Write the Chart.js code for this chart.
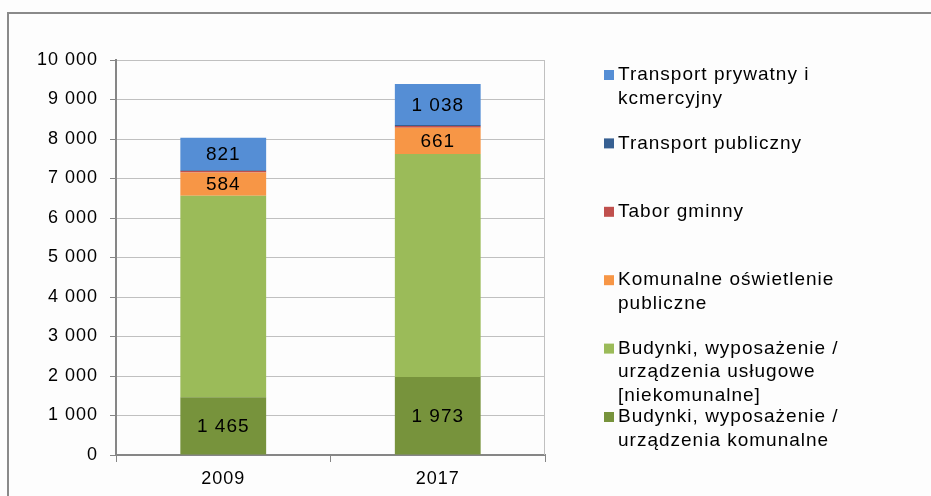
<!DOCTYPE html>
<html>
<head>
<meta charset="utf-8">
<script src="https://cdn.jsdelivr.net/npm/chart.js@4.4.1/dist/chart.umd.min.js"></script>
<style>
  html, body { margin: 0; padding: 0; background: #ffffff; }
  #wrap { width: 931px; height: 496px; position: relative; }
</style>
</head>
<body>
<div id="wrap"><canvas id="chart" width="931" height="496"></canvas></div>
<script>
// categories
const years = ['2009', '2017'];

// series (bottom to top of the stack)
const budynkiKomunalne = [1465, 1973];
const budynkiUslugowe = [5100, 5650];
const oswietlenie = [584, 661];
const taborGminny = [40, 45];
const transportPubliczny = [20, 25];
const transportPrywatny = [821, 1038];

// y ticks
const yMin = 0;
const yMax = 10000;
const yStep = 1000;

// legend, top to bottom
const legendLabels = [
    ['Transport prywatny i', 'kcmercyjny'],
    ['Transport publiczny'],
    ['Tabor gminny'],
    ['Komunalne oświetlenie', 'publiczne'],
    ['Budynki, wyposażenie /', 'urządzenia usługowe', '[niekomunalne]'],
    ['Budynki, wyposażenie /', 'urządzenia komunalne']
];
const legendColors = ['#558ed5', '#376092', '#c0504d', '#f79646', '#9bbb59', '#77933c'];

function spaced(v) {
    return String(v).replace(/\B(?=(\d{3})+(?!\d))/g, ' ');
}

Chart.defaults.font.family = "'Liberation Sans', Arial, sans-serif";
Chart.defaults.color = '#000000';

// frame around the chart + right border of the plot area
const framePlugin = {
    id: 'frame',
    beforeDraw(chart) {
        const ctx = chart.ctx;
        ctx.save();
        ctx.fillStyle = '#fdfdfd';
        ctx.fillRect(0, 0, chart.width, chart.height);
        ctx.strokeStyle = '#8a8a8a';
        ctx.lineWidth = 2;
        ctx.beginPath();
        ctx.moveTo(8, chart.height);
        ctx.lineTo(8, 13);
        ctx.lineTo(chart.width, 13);
        ctx.stroke();
        ctx.restore();
        ctx.letterSpacing = '1px';
    },
    beforeDatasetsDraw(chart) {
        const ctx = chart.ctx;
        const a = chart.chartArea;
        ctx.save();
        ctx.strokeStyle = '#c0c0c0';
        ctx.lineWidth = 1;
        ctx.beginPath();
        ctx.moveTo(a.right - 0.5, a.top);
        ctx.lineTo(a.right - 0.5, a.bottom);
        ctx.stroke();
        ctx.restore();
    },
    afterDraw(chart) {
        chart.ctx.letterSpacing = '0px';
    }
};

// value labels inside the bigger segments
const valueLabels = {
    id: 'valueLabels',
    afterDatasetsDraw(chart) {
        const ctx = chart.ctx;
        ctx.save();
        ctx.font = "19px 'Liberation Sans', Arial, sans-serif";
        ctx.fillStyle = '#000000';
        ctx.textAlign = 'center';
        ctx.textBaseline = 'middle';
        chart.data.datasets.forEach((ds, i) => {
            if (!ds.showValue) return;
            chart.getDatasetMeta(i).data.forEach((bar, j) => {
                ctx.fillText(spaced(ds.data[j]), bar.x, (bar.y + bar.base) / 2 + 1);
            });
        });
        ctx.restore();
    }
};

// legend on the right, entries evenly spaced like the original
const sideLegend = {
    id: 'sideLegend',
    afterDraw(chart) {
        const ctx = chart.ctx;
        ctx.save();
        ctx.letterSpacing = '1px';
        ctx.font = "19px 'Liberation Sans', Arial, sans-serif";
        ctx.textBaseline = 'middle';
        ctx.textAlign = 'left';
        const x0 = 604, top = 75, step = 68.4, lineH = 23.5;
        legendLabels.forEach((lines, i) => {
            const y = top + i * step;
            ctx.fillStyle = legendColors[i];
            ctx.fillRect(x0, y - 5, 10, 10);
            ctx.fillStyle = '#000000';
            lines.forEach((t, k) => ctx.fillText(t, x0 + 14, y + k * lineH));
        });
        ctx.restore();
    }
};

const ctx = document.getElementById('chart').getContext('2d');
new Chart(ctx, {
    type: 'bar',
    data: {
        labels: years,
        datasets: [
            { label: 'Budynki, wyposażenie / urządzenia komunalne', data: budynkiKomunalne, backgroundColor: '#77933c', showValue: true },
            { label: 'Budynki, wyposażenie / urządzenia usługowe [niekomunalne]', data: budynkiUslugowe, backgroundColor: '#9bbb59' },
            { label: 'Komunalne oświetlenie publiczne', data: oswietlenie, backgroundColor: '#f79646', showValue: true },
            { label: 'Tabor gminny', data: taborGminny, backgroundColor: '#c0504d' },
            { label: 'Transport publiczny', data: transportPubliczny, backgroundColor: '#376092' },
            { label: 'Transport prywatny i kcmercyjny', data: transportPrywatny, backgroundColor: '#558ed5', showValue: true }
        ]
    },
    options: {
        responsive: false,
        animation: false,
        events: [],
        barPercentage: 0.4,
        categoryPercentage: 1.0,
        layout: {
            padding: { top: 60, right: 386, left: 0, bottom: 0 }
        },
        plugins: {
            legend: { display: false },
            tooltip: { enabled: false }
        },
        scales: {
            x: {
                stacked: true,
                grid: {
                    display: true,
                    drawOnChartArea: false,
                    offset: true,
                    tickLength: 7,
                    tickColor: '#868686'
                },
                border: { color: '#868686', width: 2 },
                ticks: { font: { size: 18 }, padding: 6, color: '#000000' },
                afterFit: scale => { scale.height = 41; }
            },
            y: {
                stacked: true,
                min: yMin,
                max: yMax,
                ticks: {
                    stepSize: yStep,
                    font: { size: 18 },
                    padding: 12,
                    color: '#000000',
                    callback: v => spaced(v)
                },
                grid: {
                    color: '#c0c0c0',
                    tickColor: '#868686',
                    tickLength: 6
                },
                border: { color: '#868686', width: 2 },
                afterFit: scale => { scale.width = 116; }
            }
        }
    },
    plugins: [framePlugin, valueLabels, sideLegend]
});
</script>
</body>
</html>
